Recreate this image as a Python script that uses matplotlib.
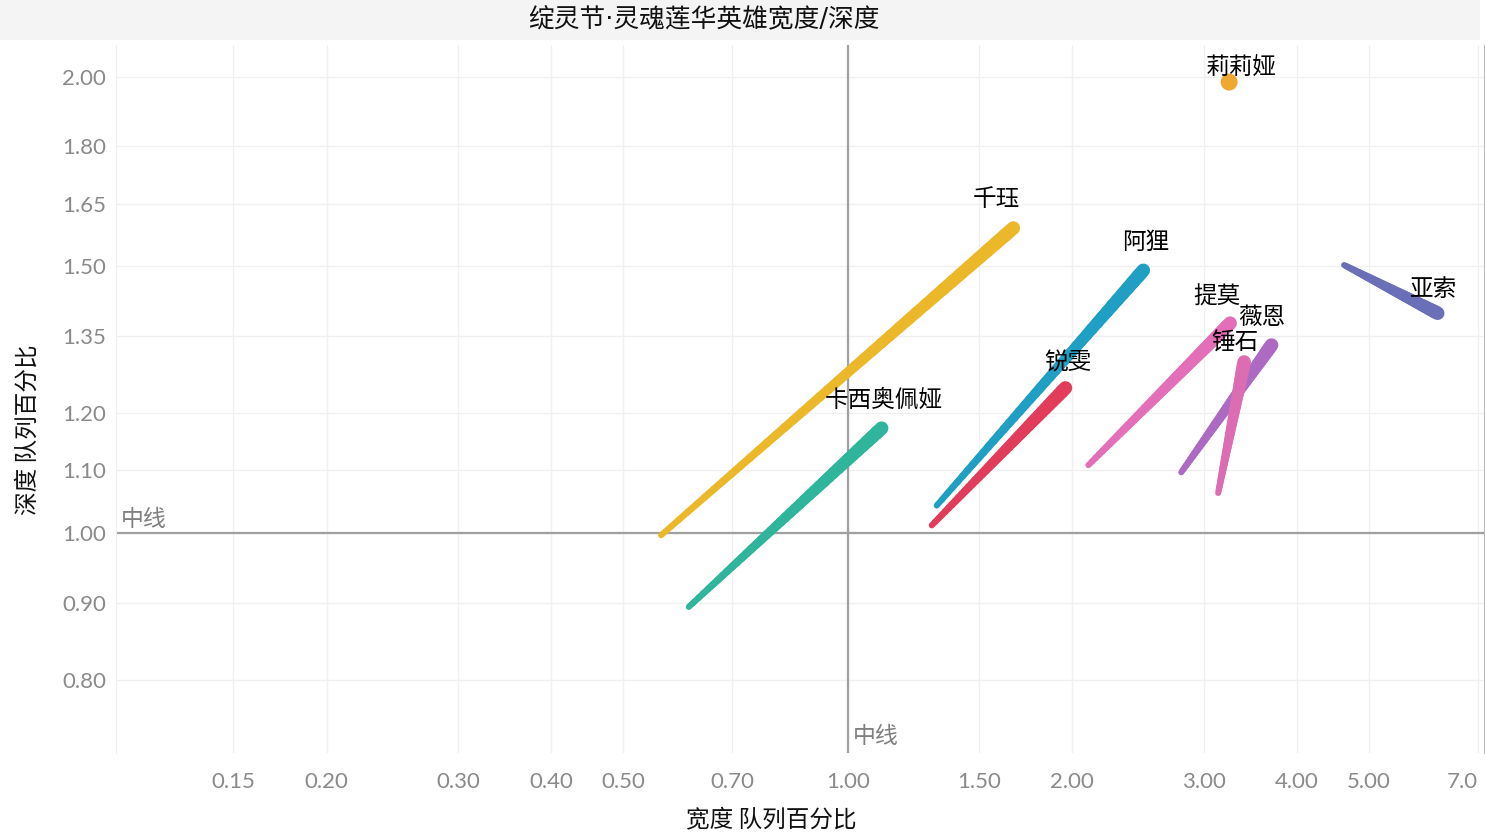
import numpy as np
import matplotlib
matplotlib.use("Agg")
import matplotlib.pyplot as plt
from matplotlib.collections import LineCollection
from matplotlib.patches import Rectangle
from matplotlib.ticker import FixedLocator, NullLocator

plt.rcParams['font.family'] = ['Noto Sans CJK SC', 'DejaVu Sans']

# champion lines: start -> end (width %, depth %)
names = ['千珏', '卡西奥佩娅', '阿狸', '锐雯', '提莫', '薇恩', '锤石', '亚索']
x_start = [0.562, 0.612, 1.316, 1.296, 2.102, 2.80, 3.138, 4.63]
y_start = [0.997, 0.894, 1.043, 1.012, 1.109, 1.097, 1.063, 1.503]
x_end = [1.667, 1.110, 2.490, 1.958, 3.256, 3.70, 3.400, 6.18]
y_end = [1.590, 1.173, 1.491, 1.247, 1.376, 1.331, 1.297, 1.397]
colors = ['#ebb82a', '#2eb59b', '#1f9fc4', '#e23c5b', '#e36fb8', '#ad6ac2', '#dd6db2', '#6b6fb8']
# label offsets from the end point (pixels)
label_dx = [-17, 2, 2, 2, -13, -10, -9, -4]
label_dy = [29, 28, 28, 25, 26, 28, 19, 24]

# single point
dot_name = '莉莉娅'
dot_x = 3.246
dot_y = 1.985

x_ticks = [0.15, 0.20, 0.30, 0.40, 0.50, 0.70, 1.00, 1.50, 2.00, 3.00, 4.00, 5.00, 7.0]
x_tick_labels = ['0.15', '0.20', '0.30', '0.40', '0.50', '0.70', '1.00', '1.50', '2.00',
                 '3.00', '4.00', '5.00', '7.0']
y_ticks = [0.80, 0.90, 1.00, 1.10, 1.20, 1.35, 1.50, 1.65, 1.80, 2.00]
y_tick_labels = ['0.80', '0.90', '1.00', '1.10', '1.20', '1.35', '1.50', '1.65', '1.80', '2.00']

W, H = 1486, 838
fig = plt.figure(figsize=(W / 100, H / 100), dpi=100)
fig.patch.set_facecolor('white')

#Title band
fig.patches.append(Rectangle((0, 1 - 40 / H), 1480 / W, 40 / H, transform=fig.transFigure,
                             facecolor='#f4f4f4', edgecolor='none', zorder=0))
fig.text(704 / W, 1 - 19 / H, '绽灵节·灵魂莲华英雄宽度/深度', ha='center', va='center',
         fontsize=18.5, color='#111111', family=['DejaVu Sans', 'Noto Sans CJK SC'])

ax = fig.add_axes([116 / W, 1 - 753 / H, (1484 - 116) / W, (753 - 45) / H])
ax.set_xscale('log')
ax.set_yscale('log')
ax.set_xlim(0.1044, 7.13)
ax.set_ylim(0.716, 2.10)

ax.xaxis.set_major_locator(FixedLocator(x_ticks))
ax.xaxis.set_minor_locator(NullLocator())
ax.set_xticklabels(x_tick_labels)
ax.yaxis.set_major_locator(FixedLocator(y_ticks))
ax.yaxis.set_minor_locator(NullLocator())
ax.set_yticklabels(y_tick_labels)
ax.tick_params(axis='both', length=0, colors='#8a8a8a', labelsize=16)
ax.tick_params(axis='x', pad=14)
ax.tick_params(axis='y', pad=7)
for lab in ax.get_xticklabels() + ax.get_yticklabels():
    lab.set_fontfamily(['Lato', 'DejaVu Sans'])
#Last label sits at the right edge
ax.get_xticklabels()[-1].set_horizontalalignment('right')

ax.grid(True, color='#f0f0f0', linewidth=1)
ax.set_axisbelow(True)
for side in ['top', 'bottom']:
    ax.spines[side].set_visible(False)
ax.spines['left'].set_color('#eeeeee')
ax.spines['right'].set_color('#bbbbbb')

#Median lines
ax.axvline(1.0, color='#a0a0a0', linewidth=1.6, zorder=1)
ax.axhline(1.0, color='#a0a0a0', linewidth=1.6, zorder=1)
ax.text(0.106, 1.003, '中线', color='#808080', fontsize=16.5, ha='left', va='bottom')
ax.text(1.015, 0.722, '中线', color='#808080', fontsize=16.5, ha='left', va='bottom')

#Tapered lines: thin at the start, thick at the end
n_seg = 40
t = np.linspace(0, 1, n_seg + 1)
for i in range(len(names)):
    xs = x_start[i] * (x_end[i] / x_start[i]) ** t
    ys = y_start[i] * (y_end[i] / y_start[i]) ** t
    pts = np.column_stack([xs, ys])
    segs = np.stack([pts[:-1], pts[1:]], axis=1)
    widths = np.linspace(4.4, 9.8, n_seg)
    lc = LineCollection(segs, colors=colors[i], linewidths=widths, capstyle='round', zorder=3)
    ax.add_collection(lc)
    ax.annotate(names[i], (x_end[i], y_end[i]), xytext=(label_dx[i], label_dy[i]),
                textcoords='offset pixels', ha='center', va='center', fontsize=17,
                color='black', zorder=5)

ax.scatter([dot_x], [dot_y], s=150, color='#f0a930', edgecolors='none', zorder=4)
ax.annotate(dot_name, (dot_x, dot_y), xytext=(12, 15), textcoords='offset pixels',
            ha='center', va='center', fontsize=17, color='black', zorder=5)

fig.text(771 / W, 1 - 820 / H, '宽度 队列百分比', ha='center', va='center', fontsize=17,
         color='#111111')
fig.text(28 / W, 1 - 430 / H, '深度 队列百分比', ha='center', va='center', fontsize=17,
         color='#111111', rotation=90)

fig.savefig('out.png', dpi=100, facecolor=fig.get_facecolor())
